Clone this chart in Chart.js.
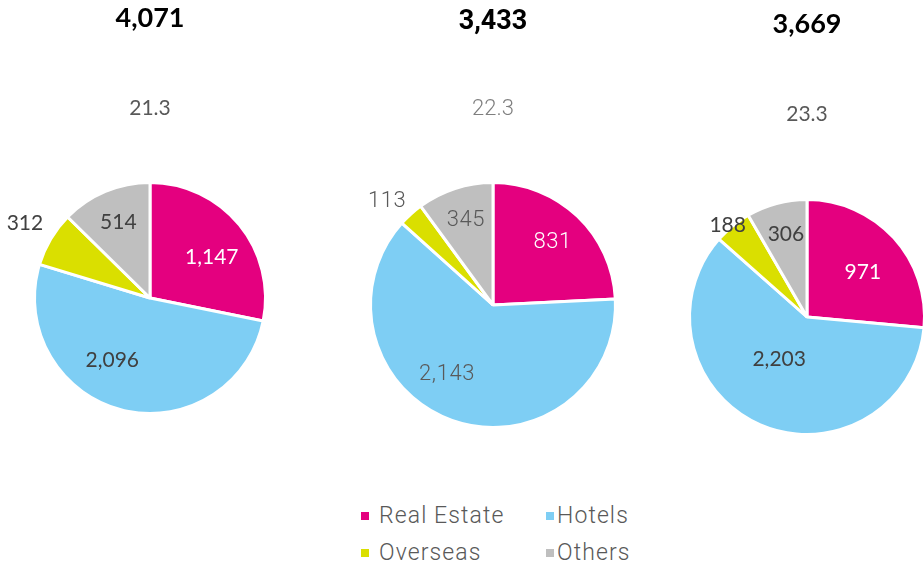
<!DOCTYPE html>
<html>
<head>
<meta charset="utf-8">
<script src="https://cdn.jsdelivr.net/npm/chart.js@4.4.1/dist/chart.umd.min.js"></script>
<style>
  html, body { margin: 0; padding: 0; background: #fff; }
  body { width: 923px; height: 563px; overflow: hidden; position: relative; }
  canvas.pie { position: absolute; top: 0; }
  .lg-box { position: absolute; width: 8px; height: 8px; }
  .lg-text { position: absolute; font-family: Roboto, sans-serif; font-weight: 300; letter-spacing: 1.1px;
             font-size: 23px; color: #595959; line-height: 1; transform: translateY(-50%); white-space: nowrap; }
</style>
</head>
<body>
<canvas id="pie1" class="pie"></canvas>
<canvas id="pie2" class="pie"></canvas>
<canvas id="pie3" class="pie"></canvas>
<div id="legend"></div>

<script>
/* segment mix per period */
const categories = ["Real Estate", "Hotels", "Overseas", "Others"];
const periods = ["21.3", "22.3", "23.3"];
const totals = [4071, 3433, 3669];
const values213 = [1147, 2096, 312, 514];
const values223 = [831, 2143, 113, 345];
const values233 = [971, 2203, 188, 306];
const colors = ["#E4007F", "#7ECEF4", "#DADF00", "#BFBFBF"];

const fmt = n => n.toLocaleString("en-US");

// where each pie sits on the page (centre, radius) and how it is styled
const PIES = [
  { id: "pie1", values: values213, cx: 150, cy: 298, r: 114, titleY: 18, subY: 108,
    font: "Lato", subColor: "#595959", labelColor: "#404040", labelSize: 21, labelWeight: "normal", spacing: "0px", dy: 0,
    place: [[6, 0.64], [17, 0.63], [0, 1.26], [0, 0.71]] },
  { id: "pie2", values: values223, cx: 493, cy: 305, r: 121, titleY: 22, subY: 109,
    font: "Roboto", subColor: "#7F7F7F", labelColor: "#595959", labelSize: 22, labelWeight: "300", spacing: "0.6px", dy: 2,
    place: [[-1, 0.72], [14.5, 0.67], [-3, 1.22], [0.7, 0.74]] },
  { id: "pie3", values: values233, cx: 807, cy: 317, r: 116, titleY: 24, subY: 114,
    font: "Lato", subColor: "#595959", labelColor: "#404040", labelSize: 21, labelWeight: "normal", spacing: "0px", dy: 0,
    place: [[3.5, 0.61], [10, 0.43], [-1.7, 1.03], [0.8, 0.73]] }
];

const sliceLabels = {
  id: "sliceLabels",
  afterDatasetsDraw(chart, args, opts) {
    const ctx = chart.ctx;
    const data = chart.data.datasets[0].data;
    ctx.save();
    ctx.font = opts.weight + " " + opts.size + "px " + opts.family;
    ctx.letterSpacing = opts.spacing;
    ctx.textAlign = "center";
    ctx.textBaseline = "middle";
    chart.getDatasetMeta(0).data.forEach((arc, i) => {
      const p = arc.getProps(["x", "y", "startAngle", "endAngle", "outerRadius"], true);
      const [off, frac] = opts.place[i];
      const a = (p.startAngle + p.endAngle) / 2 + off * Math.PI / 180;
      ctx.fillStyle = i === 0 ? "#FFFFFF" : opts.color;
      ctx.fillText(fmt(data[i]), p.x + Math.cos(a) * frac * p.outerRadius, p.y + Math.sin(a) * frac * p.outerRadius + opts.dy);
    });
    ctx.restore();
  }
};

function renderPie(cfg, idx) {
  const W = 300, H = 470, BW = 3;
  const half = cfg.r + BW;
  const titleSize = 27, subSize = cfg.font === "Roboto" ? 22 : 21;
  const el = document.getElementById(cfg.id);
  el.width = W; el.height = H;
  el.style.left = (cfg.cx - W / 2) + "px";

  const titleTop = cfg.titleY - titleSize * 0.6;
  const titleBottom = cfg.titleY + titleSize * 0.6;
  const subTop = cfg.subY - subSize * 0.6;
  const subBottom = cfg.subY + subSize * 0.6;
  const pieTop = cfg.cy - half;

  new Chart(el, {
    type: "pie",
    data: {
      labels: categories,
      datasets: [{ data: cfg.values, backgroundColor: colors, borderColor: "#FFFFFF", borderWidth: BW, hoverOffset: 0 }]
    },
    options: {
      responsive: false,
      animation: false,
      events: [],
      layout: { padding: { top: 0, left: W / 2 - half, right: W / 2 - half, bottom: H - (cfg.cy + half) } },
      plugins: {
        legend: { display: false },
        tooltip: { enabled: false },
        title: {
          display: true, text: fmt(totals[idx]), color: "#000",
          font: { family: cfg.font, size: titleSize, weight: "bold" },
          padding: { top: titleTop, bottom: subTop - titleBottom }
        },
        subtitle: {
          display: true, text: periods[idx], color: cfg.subColor,
          font: { family: cfg.font, size: subSize, weight: cfg.labelWeight },
          padding: { top: 0, bottom: pieTop - subBottom }
        },
        sliceLabels: { family: cfg.font, size: cfg.labelSize, weight: cfg.labelWeight, color: cfg.labelColor,
                       spacing: cfg.spacing, dy: cfg.dy, place: cfg.place }
      }
    },
    plugins: [sliceLabels]
  });
}

function renderLegend() {
  // two columns x two rows
  const boxX = [361, 546], textX = [379, 557], rowY = [515, 552];
  const wrap = document.getElementById("legend");
  wrap.innerHTML = categories.map((c, i) => {
    const col = i % 2, row = Math.floor(i / 2);
    return `<div class="lg-box" style="left:${boxX[col]}px;top:${rowY[row] - 3}px;background:${colors[i]}"></div>
            <div class="lg-text" style="left:${textX[col]}px;top:${rowY[row]}px">${c}</div>`;
  }).join("");
}

document.fonts.load("bold 27px Lato").then(() => document.fonts.load("21px Lato")).then(() => document.fonts.load("300 22px Roboto")).finally(() => {
  PIES.forEach(renderPie);
  renderLegend();
});
</script>
</body>
</html>
